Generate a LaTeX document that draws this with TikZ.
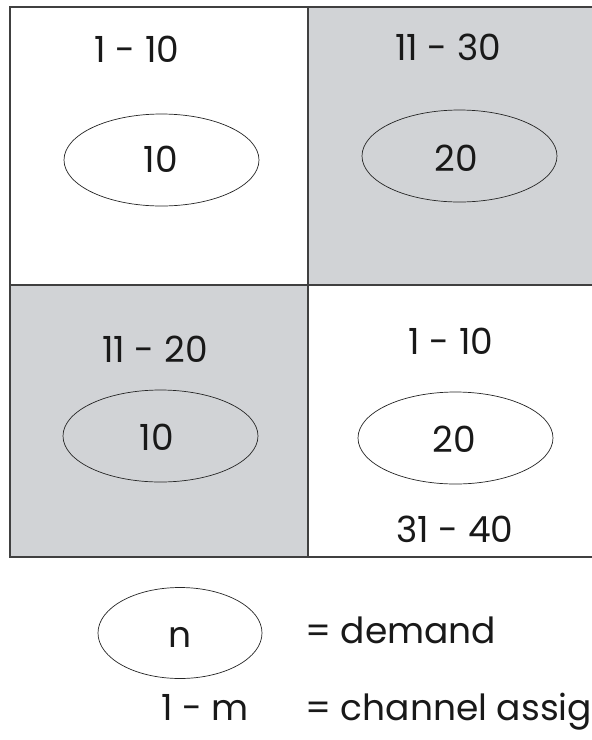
\documentclass[tikz,border=0pt]{standalone}
\usepackage{fontspec}
\setmainfont{Poppins}
\usetikzlibrary{shapes.geometric}
\begin{document}
\begin{tikzpicture}[x=1pt,y=-1pt,
  grid/.style={draw=black!75,line width=1.1pt},
  demand/.style={draw=black!85,line width=0.7pt,ellipse,minimum width=195pt,minimum height=92pt,inner sep=0pt},
  lbl/.style={font=\fontsize{36}{40}\selectfont,text=black!90,inner sep=0pt,anchor=base}]
\definecolor{cgray}{RGB}{209,211,214}
\useasboundingbox (0,0) rectangle (592,740);
\clip (0,0) rectangle (592,740);
\fill[white] (0,0) rectangle (592,740);
% cells
\fill[cgray] (308,7) rectangle (600,285);
\fill[cgray] (10,285) rectangle (308,557);
\draw[grid] (600,7) -- (10,7) -- (10,557) -- (600,557);
\draw[grid] (308,7) -- (308,557);
\draw[grid] (10,285) -- (600,285);
% ellipses
\node[demand] (e1) at (161.5,160) {};
\node[demand] (e2) at (459.5,156) {};
\node[demand] (e3) at (160.5,436) {};
\node[demand] (e4) at (455.5,438) {};
\node[lbl] (d1) at (161,172) {10};
\node[lbl] (d2) at (456,171) {20};
\node[lbl] (d3) at (157,450) {10};
\node[lbl] (d4) at (454,452) {20};
% channel labels
\node[lbl] (c1) at (137,62) {1 - 10};
\node[lbl] (c2) at (448,60) {11 - 30};
\node[lbl] (c3) at (155,362) {11 - 20};
\node[lbl] (c4) at (451,354) {1 - 10};
\node[lbl] (c5) at (455,542) {31 - 40};
% legend
\node[demand,minimum width=164pt,minimum height=91pt] (le) at (180,633) {};
\node[lbl] (ln) at (180,647) {n};
\node[lbl,anchor=base west] (ld) at (305,643) {= demand};
\node[lbl] (lm) at (205,720) {1 - m};
\node[lbl,anchor=base west] (lc) at (305,720) {= channel assignment};
\end{tikzpicture}
\end{document}
